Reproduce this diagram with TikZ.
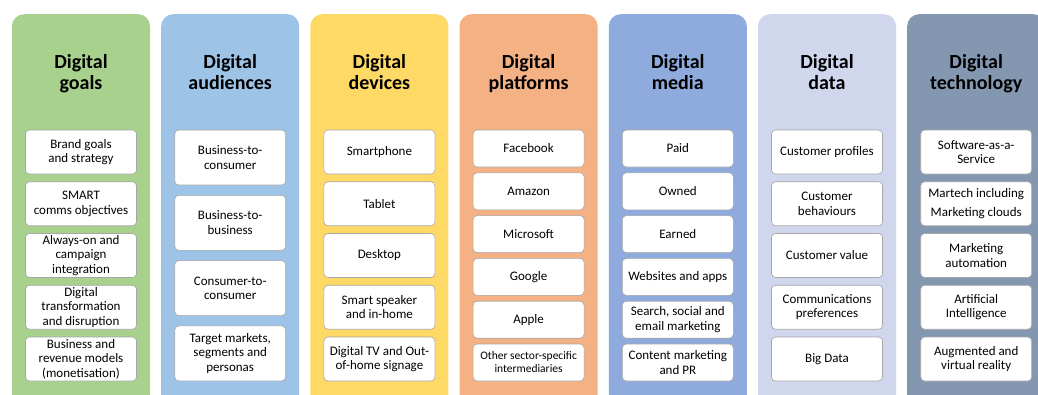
\documentclass[tikz,border=0pt]{standalone}
\usepackage{fontspec}
\setmainfont{Carlito}
\usetikzlibrary{positioning}
\definecolor{goalsgreen}{HTML}{A9D18E}
\definecolor{audienceblue}{HTML}{9DC3E6}
\definecolor{deviceyellow}{HTML}{FFD966}
\definecolor{platformorange}{HTML}{F4B183}
\definecolor{mediablue}{HTML}{8FAADC}
\definecolor{datalilac}{HTML}{D0D6EC}
\definecolor{techslate}{HTML}{8497B0}
\definecolor{boxgray}{HTML}{A6A6A6}
\tikzstyle{column} = [
    rounded corners=12pt, 
    anchor=north, 
    minimum width=138pt, 
    minimum height=420pt, 
    inner sep=0pt
]
\tikzstyle{heading} = [
    font=\fontsize{20}{21.5}\selectfont\bfseries, 
    align=center, 
    text depth=0pt, % same box for every heading, descenders or not
    inner sep=0pt
]
\tikzstyle{item} = [
    rounded corners=4pt, 
    draw=boxgray, 
    fill=white, 
    line width=0.6pt, 
    align=center, 
    font=\fontsize{13}{14.5}\selectfont, 
    minimum width=111pt, 
    inner sep=0pt, 
    outer sep=0pt
]
\tikzstyle{five_item} = [item, minimum height=44pt] % 5 boxes in a column
\tikzstyle{four_item} = [item, minimum height=55pt] % 4 boxes
\tikzstyle{six_item} = [item, minimum height=37pt] % 6 boxes

\begin{document}
\begin{tikzpicture}[x=1pt, y=-1pt]
\clip (0,0) rectangle (1038,394);
\fill [white] (0,0) rectangle (1038,394);

% the seven columns
\node [column, fill=goalsgreen] (goals) at (81,14) {};
\node [column, fill=audienceblue] (audiences) at (230.2,14) {};
\node [column, fill=deviceyellow] (devices) at (379.4,14) {};
\node [column, fill=platformorange] (platforms) at (528.6,14) {};
\node [column, fill=mediablue] (media) at (677.8,14) {};
\node [column, fill=datalilac] (data) at (827,14) {};
\node [column, fill=techslate] (technology) at (976.2,14) {};

\node [heading] (goals_head) at (81,72) {Digital\\goals};
\node [heading] (audiences_head) at (230.2,72) {Digital\\audiences};
\node [heading] (devices_head) at (379.4,72) {Digital\\devices};
\node [heading] (platforms_head) at (528.6,72) {Digital\\platforms};
\node [heading] (media_head) at (677.8,72) {Digital\\media};
\node [heading] (data_head) at (827,72) {Digital\\data};
\node [heading] (technology_head) at (976.2,72) {Digital\\technology};

% goals
\node [five_item, anchor=north] (goals1) at (81,130) {Brand goals\\and strategy};
\node [five_item, below=7.75pt of goals1] (goals2) {SMART\\comms objectives};
\node [five_item, below=7.75pt of goals2] (goals3) {Always-on and\\campaign\\integration};
\node [five_item, below=7.75pt of goals3] (goals4) {Digital\\transformation\\and disruption};
\node [five_item, below=7.75pt of goals4] (goals5) {Business and\\revenue models\\(monetisation)};

% audiences
\node [four_item, anchor=north] (aud1) at (230.2,130) {Business-to-\\consumer};
\node [four_item, below=10.3pt of aud1] (aud2) {Business-to-\\business};
\node [four_item, below=10.3pt of aud2] (aud3) {Consumer-to-\\consumer};
\node [four_item, below=10.3pt of aud3] (aud4) {Target markets,\\segments and\\personas};

% devices
\node [five_item, anchor=north] (dev1) at (379.4,130) {Smartphone};
\node [five_item, below=7.75pt of dev1] (dev2) {Tablet};
\node [five_item, below=7.75pt of dev2] (dev3) {Desktop};
\node [five_item, below=7.75pt of dev3] (dev4) {Smart speaker\\and in-home};
\node [five_item, below=7.75pt of dev4] (dev5) {Digital TV and Out-\\of-home signage};

% platforms
\node [six_item, anchor=north] (plat1) at (528.6,130) {Facebook};
\node [six_item, below=5.8pt of plat1] (plat2) {Amazon};
\node [six_item, below=5.8pt of plat2] (plat3) {Microsoft};
\node [six_item, below=5.8pt of plat3] (plat4) {Google};
\node [six_item, below=5.8pt of plat4] (plat5) {Apple};
\node [six_item, below=5.8pt of plat5, font=\fontsize{11.5}{13}\selectfont] (plat6) {Other sector-specific\\intermediaries};

% media
\node [six_item, anchor=north] (media1) at (677.8,130) {Paid};
\node [six_item, below=5.8pt of media1] (media2) {Owned};
\node [six_item, below=5.8pt of media2] (media3) {Earned};
\node [six_item, below=5.8pt of media3] (media4) {Websites and apps};
\node [six_item, below=5.8pt of media4] (media5) {Search, social and\\email marketing};
\node [six_item, below=5.8pt of media5] (media6) {Content marketing\\and PR};

% data
\node [five_item, anchor=north] (data1) at (827,130) {Customer profiles};
\node [five_item, below=7.75pt of data1] (data2) {Customer\\behaviours};
\node [five_item, below=7.75pt of data2] (data3) {Customer value};
\node [five_item, below=7.75pt of data3] (data4) {Communications\\preferences};
\node [five_item, below=7.75pt of data4] (data5) {Big Data};

% technology
\node [five_item, anchor=north] (tech1) at (976.2,130) {Software-as-a-\\Service};
\node [five_item, below=7.75pt of tech1, font=\fontsize{13}{19}\selectfont] (tech2) {Martech including\\Marketing clouds};
\node [five_item, below=7.75pt of tech2] (tech3) {Marketing\\automation};
\node [five_item, below=7.75pt of tech3] (tech4) {Artificial\\Intelligence};
\node [five_item, below=7.75pt of tech4] (tech5) {Augmented and\\virtual reality};
\end{tikzpicture}
\end{document}
